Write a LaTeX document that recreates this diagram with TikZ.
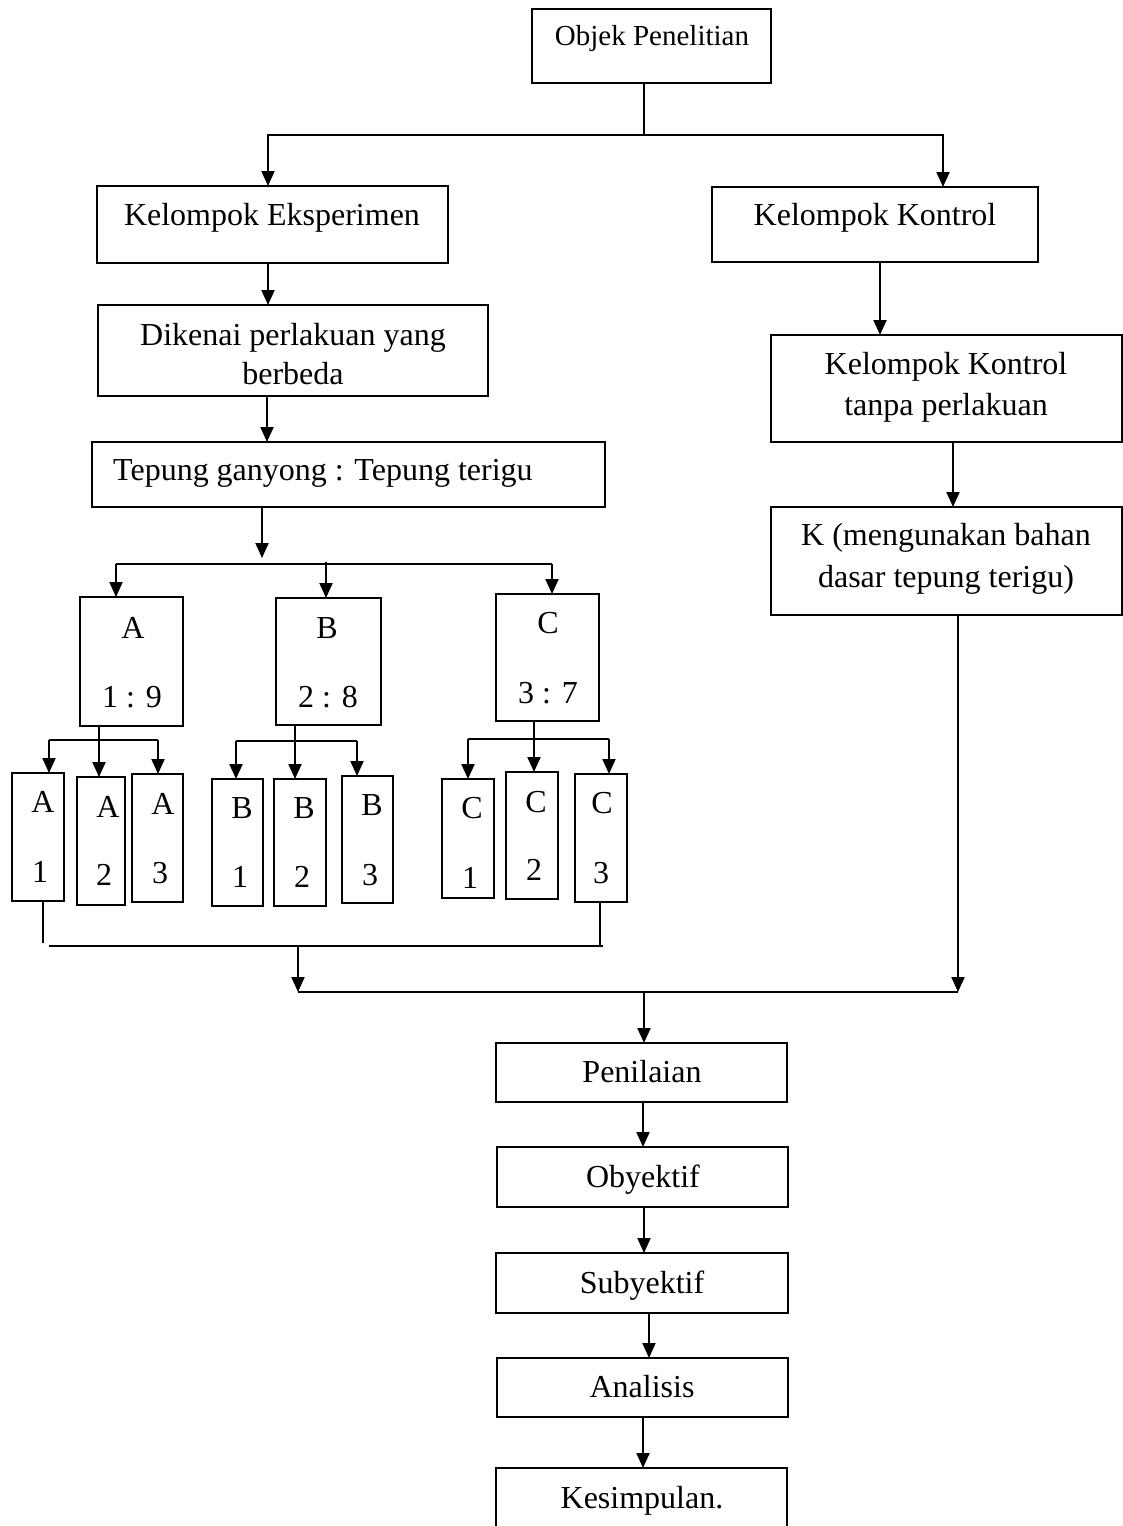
\documentclass[tikz,border=0pt]{standalone}
\usepackage{fontspec}
\setmainfont{Liberation Serif}
\usetikzlibrary{arrows.meta}
% box given by its corners (x1,y1) and (x2,y2), y growing downward
\newcommand\mkbox[5]{\node[boxst, minimum width={(#4)-(#2)}, minimum height={(#5)-(#3)}] (#1) at (#2,#3) {};}
\begin{document}
\begin{tikzpicture}[x=1pt,y=-1pt,
  boxst/.style={draw, line width=2pt, rectangle, inner sep=0pt, outer sep=0pt, anchor=north west},
  lbl/.style={inner sep=0pt, anchor=base, font=\fontsize{32}{40}\selectfont},
  conn/.style={line width=2pt},
  arr/.style={conn, -{Triangle[length=15pt,width=13pt]}}]
\useasboundingbox (0,0) rectangle (1123,1526);
\clip (0,0) rectangle (1123,1526);

% ---------- boxes ----------
\mkbox{obj}{532}{9}{771}{83}
\mkbox{ke}{97}{186}{448}{263}
\mkbox{kk}{712}{187}{1038}{262}
\mkbox{dik}{98}{305}{488}{396}
\mkbox{kt}{771}{335}{1122}{442}
\mkbox{tep}{92}{442}{605}{507}
\mkbox{kb}{771}{507}{1122}{615}
\mkbox{ga}{80}{597}{183}{726}
\mkbox{gb}{276}{598}{381}{725}
\mkbox{gc}{496}{594}{599}{721}
\mkbox{a1}{12}{773}{64}{901}
\mkbox{a2}{77}{777}{125}{905}
\mkbox{a3}{132}{774}{183}{902}
\mkbox{b1}{212}{779}{263}{906}
\mkbox{b2}{274}{779}{326}{906}
\mkbox{b3}{342}{776}{393}{903}
\mkbox{c1}{442}{779}{494}{898}
\mkbox{c2}{506}{772}{558}{899}
\mkbox{c3}{575}{774}{627}{902}
\mkbox{pen}{496}{1043}{787}{1102}
\mkbox{oby}{497}{1147}{788}{1207}
\mkbox{sub}{496}{1253}{788}{1313}
\mkbox{ana}{497}{1358}{788}{1417}
\mkbox{kes}{496}{1468}{787}{1560}

% ---------- texts ----------
\node[lbl, font=\fontsize{29}{35}\selectfont] (obj-t) at (652,45) {Objek Penelitian};
\node[lbl] (ke-t) at (272,225) {Kelompok Eksperimen};
\node[lbl] (kk-t) at (875,225) {Kelompok Kontrol};
\node[lbl] (dik-t1) at (293,345) {Dikenai perlakuan yang};
\begin{scope}
  \clip (98,305) rectangle (488,387);
  \node[lbl] (dik-t2) at (293,384) {berbeda};
\end{scope}
\node[lbl] (kt-t1) at (946,374) {Kelompok Kontrol};
\node[lbl] (kt-t2) at (946,415) {tanpa perlakuan};
\node[lbl, anchor=base west] (tep-t) at (113,480) {Tepung ganyong : Tepung terigu};
\node[lbl] (kb-t1) at (946,545) {K (mengunakan bahan};
\node[lbl] (kb-t2) at (946,587) {dasar tepung terigu)};
\node[lbl] (ga-t1) at (133,638) {A};
\node[lbl] (ga-t2) at (132,707) {1 : 9};
\node[lbl] (gb-t1) at (327,638) {B};
\node[lbl] (gb-t2) at (328,707) {2 : 8};
\node[lbl] (gc-t1) at (548,633) {C};
\node[lbl] (gc-t2) at (548,703) {3 : 7};
\node[lbl] (a1-t1) at (43,812) {A};
\node[lbl] (a1-t2) at (40,882) {1};
\node[lbl] (a2-t1) at (108,817) {A};
\node[lbl] (a2-t2) at (104,885) {2};
\node[lbl] (a3-t1) at (163,814) {A};
\node[lbl] (a3-t2) at (160,883) {3};
\node[lbl] (b1-t1) at (242,818) {B};
\node[lbl] (b1-t2) at (240,887) {1};
\node[lbl] (b2-t1) at (304,818) {B};
\node[lbl] (b2-t2) at (302,887) {2};
\node[lbl] (b3-t1) at (372,815) {B};
\node[lbl] (b3-t2) at (370,885) {3};
\node[lbl] (c1-t1) at (472,818) {C};
\node[lbl] (c1-t2) at (470,888) {1};
\node[lbl] (c2-t1) at (536,812) {C};
\node[lbl] (c2-t2) at (534,880) {2};
\node[lbl] (c3-t1) at (602,813) {C};
\node[lbl] (c3-t2) at (601,883) {3};
\node[lbl] (pen-t) at (642,1082) {Penilaian};
\node[lbl] (oby-t) at (643,1187) {Obyektif};
\node[lbl] (sub-t) at (642,1293) {Subyektif};
\node[lbl] (ana-t) at (642,1397) {Analisis};
\node[lbl] (kes-t) at (642,1508) {Kesimpulan.};

% ---------- connectors ----------
% split under the research object
\coordinate (t0) at (644,135);
\coordinate (xke) at (268,0);
\coordinate (xkk) at (943,0);
\draw[conn] (obj.south -| t0) -- (t0);
\draw[arr] (t0) -| (ke.north -| xke);
\draw[arr] (t0) -| (kk.north -| xkk);
% experiment column
\draw[arr] (ke.south -| xke) -- (dik.north -| xke);
\coordinate (xdk) at (267,0);
\draw[arr] (dik.south -| xdk) -- (tep.north -| xdk);
% control column
\coordinate (xk1) at (880,0);
\draw[arr] (kk.south -| xk1) -- (kt.north -| xk1);
\coordinate (xk2) at (953,0);
\draw[arr] (kt.south -| xk2) -- (kb.north -| xk2);
% split into A, B, C
\coordinate (s0) at (262,558);
\draw[arr] (tep.south -| s0) -- (s0);
\coordinate (sL) at (116,564);
\coordinate (sM) at (326,562);
\coordinate (sR) at (552,564);
\draw[conn] (sL) -- (sR);
\draw[arr] (sL) -- (ga.north -| sL);
\draw[arr] (sM) -- (gb.north -| sM);
\draw[arr] (sR) -- (gc.north -| sR);
% A replicates
\coordinate (aM) at (99,0);
\coordinate (aL) at (49,740);
\coordinate (aR) at (158,740);
\draw[arr] (ga.south -| aM) -- (a2.north -| aM);
\draw[conn] (aL) -- (aR);
\draw[arr] (aL) -- (a1.north -| aL);
\draw[arr] (aR) -- (a3.north -| aR);
% B replicates
\coordinate (bM) at (295,0);
\coordinate (bL) at (236,741);
\coordinate (bR) at (357,741);
\draw[arr] (gb.south -| bM) -- (b2.north -| bM);
\draw[conn] (bL) -- (bR);
\draw[arr] (bL) -- (b1.north -| bL);
\draw[arr] (bR) -- (b3.north -| bR);
% C replicates
\coordinate (cM) at (534,0);
\coordinate (cL) at (468,739);
\coordinate (cR) at (609,739);
\draw[arr] (gc.south -| cM) -- (c2.north -| cM);
\draw[conn] (cL) -- (cR);
\draw[arr] (cL) -- (c1.north -| cL);
\draw[arr] (cR) -- (c3.north -| cR);
% joining the groups
\coordinate (j1) at (43,943);
\coordinate (j2) at (600,945);
\draw[conn] (a1.south -| j1) -- (j1);
\draw[conn] (c3.south -| j2) -- (j2);
\coordinate (hL) at (49,946);
\coordinate (hR) at (603,946);
\draw[conn] (hL) -- (hR);
\coordinate (m0) at (298,946);
\coordinate (m1) at (298,992);
\coordinate (m2) at (958,992);
\coordinate (m3) at (644,992);
\draw[arr] (m0) -- (m1);
\draw[conn] (m1) -- (m2);
\draw[arr] (kb.south -| m2) -- (m2);
\draw[arr] (m3) -- (pen.north -| m3);
% evaluation chain
\coordinate (e1) at (643,0);
\coordinate (e2) at (644,0);
\coordinate (e3) at (649,0);
\draw[arr] (pen.south -| e1) -- (oby.north -| e1);
\draw[arr] (oby.south -| e2) -- (sub.north -| e2);
\draw[arr] (sub.south -| e3) -- (ana.north -| e3);
\draw[arr] (ana.south -| e1) -- (kes.north -| e1);
\end{tikzpicture}
\end{document}
